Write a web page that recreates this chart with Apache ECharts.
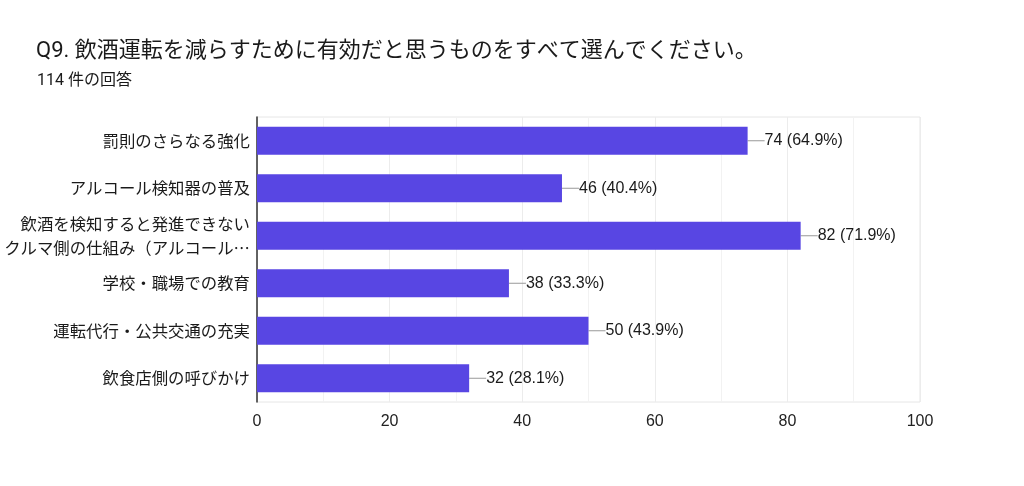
<!DOCTYPE html>
<html>
<head>
<meta charset="utf-8">
<script src="https://cdn.jsdelivr.net/npm/echarts@6/dist/echarts.min.js"></script>
<style>
  html, body { margin: 0; padding: 0; background: #fff; }
  #chart { width: 1024px; height: 486px; }
</style>
</head>
<body>
<div id="chart"></div>
<script>
const titleText = 'Q9. 飲酒運転を減らすために有効だと思うものをすべて選んでください。'
const subText = '114 件の回答'

const categories = [
    '罰則のさらなる強化',
    'アルコール検知器の普及',
    '飲酒を検知すると発進できない\nクルマ側の仕組み（アルコール…',
    '学校・職場での教育',
    '運転代行・公共交通の充実',
    '飲食店側の呼びかけ'
]
const counts = [74, 46, 82, 38, 50, 32]
const percents = ['64.9', '40.4', '71.9', '33.3', '43.9', '28.1']

const fontJa = "Roboto, 'Noto Sans CJK JP', sans-serif"
const fontCjk = "'Noto Sans CJK JP', sans-serif"
const fontNum = "'Liberation Sans', Arial, sans-serif"

let chart = echarts.init(document.getElementById('chart'))

chart.setOption({
    animation: false,
    title: [
        {
            text: titleText,
            left: 31,
            top: 35,
            textStyle: { fontSize: 22, fontWeight: 'normal', color: '#1a1a1a', fontFamily: fontJa }
        },
        {
            text: subText,
            left: 32,
            top: 68,
            textStyle: { fontSize: 16, fontWeight: 'normal', color: '#1a1a1a', fontFamily: fontJa }
        }
    ],
    grid: {
        left: 257,
        right: 104,
        top: 117,
        bottom: 84,
        show: true,
        borderColor: '#e6e6e6',
        borderWidth: 1
    },
    xAxis: {
        type: 'value',
        min: 0,
        max: 100,
        interval: 20,
        axisLine: { show: false },
        axisTick: { show: false },
        axisLabel: { fontSize: 16, color: '#222', margin: 12, fontFamily: fontNum },
        splitLine: { lineStyle: { color: '#ececec' } },
        minorTick: { show: false, splitNumber: 2 },
        minorSplitLine: { show: true, lineStyle: { color: '#f2f2f2' } }
    },
    yAxis: {
        type: 'category',
        inverse: true,
        data: categories,
        axisLine: { lineStyle: { color: '#333', width: 1.5 } },
        axisTick: { show: false },
        axisLabel: {
            fontSize: 16.4,
            color: '#1a1a1a',
            margin: 7,
            lineHeight: 24,
            fontFamily: fontCjk
        }
    },
    series: [
        {
            type: 'bar',
            data: counts,
            barWidth: 28,
            itemStyle: { color: '#5846e3' },
            label: {
                show: true,
                position: 'right',
                distance: 0,
                fontSize: 16,
                color: '#1a1a1a',
                fontFamily: fontNum,
                formatter: (p) => p.value + ' (' + percents[p.dataIndex] + '%)'
            },
            labelLayout: { dx: 17 },
            labelLine: {
                show: true,
                lineStyle: { color: '#999', width: 1 }
            }
        }
    ]
})
</script>
</body>
</html>
